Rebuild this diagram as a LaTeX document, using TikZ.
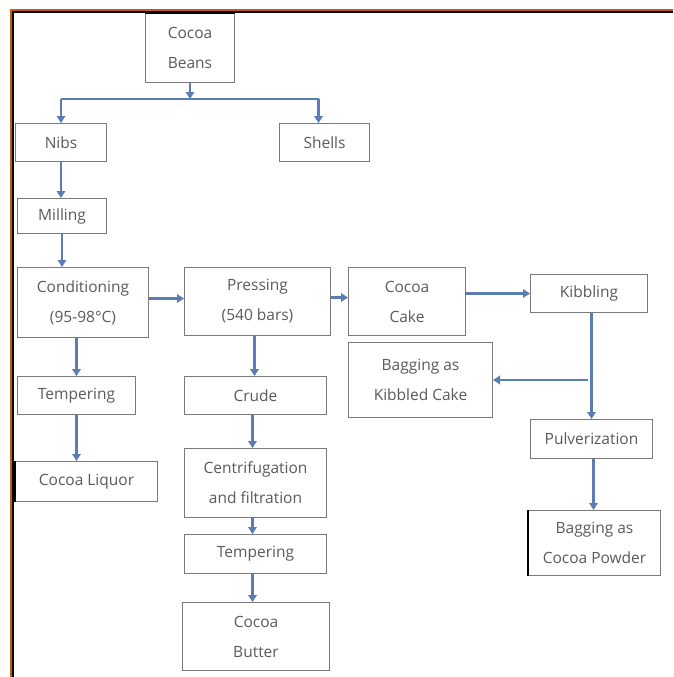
\documentclass[tikz,border=0pt]{standalone}
\usepackage{fontspec}
\setmainfont{Open Sans}
\usetikzlibrary{arrows.meta}
\definecolor{arrowblue}{HTML}{5A7DB3}
\definecolor{boxgray}{HTML}{7A7A7A}
\definecolor{textgray}{HTML}{5A5A5A}
\definecolor{frameorange}{HTML}{C55A11}
\newcommand\mybox[6]{\node[box,minimum width=#4,minimum height=#5] (#1) at (#2,#3) {#6};}
\begin{document}
\begin{tikzpicture}[x=1pt,y=-1pt,
  box/.style={draw=boxgray, line width=1pt, anchor=north west, inner sep=0pt, align=center, text=textgray, font=\fontsize{15.5}{30}\selectfont},
  arr/.style={draw=arrowblue, line width=2.2pt, -{Triangle[width=8.5pt,length=7pt]}},
  ln/.style={draw=arrowblue, line width=2.2pt},
  edge/.style={draw=black, line width=2.2pt}]
\useasboundingbox[fill=white] (0,0) rectangle (673,677);
% frame
\draw[frameorange, line width=2pt] (11,677) -- (11,10) -- (673,10);
\draw[black, line width=2pt] (13,677) -- (13,12) -- (673,12);
% boxes
\mybox{beans}{145}{13}{89}{69}{Cocoa\\Beans}
\mybox{nibs}{15}{123}{91}{38}{Nibs}
\mybox{shells}{279}{123}{90}{38}{Shells}
\mybox{milling}{17}{198}{89}{35}{Milling}
\mybox{cond}{17}{267}{131}{70}{Conditioning\\(95-98°C)}
\mybox{press}{184}{267}{146}{68}{Pressing\\(540 bars)}
\mybox{cake}{348}{267}{117}{68}{Cocoa\\Cake}
\mybox{kib}{530}{274}{117}{38}{Kibbling}
\mybox{bagkib}{348}{342}{144}{75}{Bagging as\\Kibbled Cake}
\mybox{temp1}{17}{376}{118}{38}{Tempering}
\mybox{crude}{184}{376}{142}{38}{Crude}
\mybox{liquor}{15}{461}{142}{40}{Cocoa Liquor}
\mybox{centr}{184}{448}{142}{69}{Centrifugation\\and filtration}
\mybox{pulv}{530}{419}{122}{39}{Pulverization}
\mybox{powder}{528}{510}{132}{65}{Bagging as\\Cocoa Powder}
\mybox{temp2}{184}{534}{142}{39}{Tempering}
\mybox{butter}{182}{602}{147}{68}{Cocoa\\Butter}
% dark scan edges
\draw[edge] (beans.north west) -- (beans.north east);
\draw[edge] (liquor.north west) -- (liquor.south west);
\draw[edge] (powder.north west) -- (powder.south west);
% connectors
\coordinate (split) at (190,99);
\draw[arr] (beans.south) -- (split);
\draw[ln] (nibs.north |- split) -- ([xshift=-6pt]shells.north |- split);
\draw[arr] (nibs.north |- split) -- (nibs.north);
\draw[arr] ([xshift=-6pt]shells.north |- split) -- ([xshift=-6pt]shells.north);
\draw[arr] (nibs.south) -- (milling.north -| nibs.south);
\draw[arr] (milling.south) -- (milling.south |- cond.north);
\draw[arr] (temp1.north |- cond.south) -- (temp1.north);
\draw[arr] (temp1.south) -- (temp1.south |- liquor.north);
\draw[arr] ([yshift=4pt]cond.east) -- ([yshift=4pt]cond.east -| press.west);
\draw[arr] ([yshift=4pt]press.east) -- ([yshift=4pt]press.east -| cake.west);
\draw[arr] (kib.west -| cake.east) -- (kib.west);
\draw[arr] ([xshift=-3pt]press.south) -- ([xshift=-3pt]press.south |- crude.north);
\draw[arr] ([xshift=-3pt]crude.south) -- ([xshift=-3pt]crude.south |- centr.north);
\draw[arr] ([xshift=-3pt]centr.south) -- ([xshift=-3pt]centr.south |- temp2.north);
\draw[arr] ([xshift=-3pt]temp2.south) -- ([xshift=-3pt]temp2.south |- butter.north);
\draw[arr] (pulv.north |- kib.south) -- (pulv.north);
\draw[arr] ([xshift=-4pt]pulv.north |- bagkib.east) -- (bagkib.east);
\draw[arr] ([xshift=2pt]pulv.south) -- ([xshift=2pt]pulv.south |- powder.north);
\end{tikzpicture}
\end{document}
